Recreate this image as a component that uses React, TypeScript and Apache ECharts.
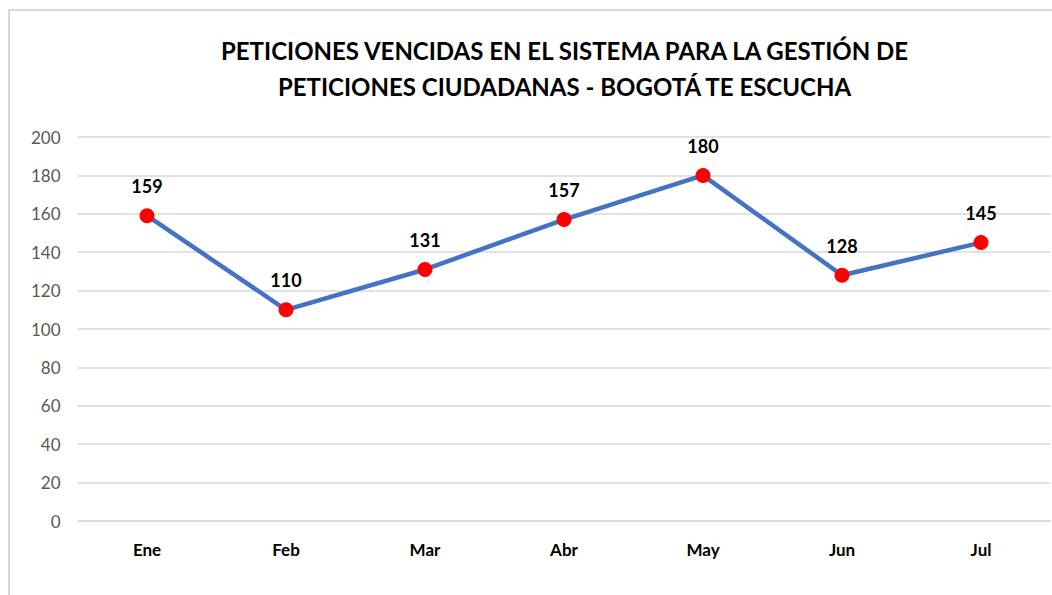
import React, { useEffect, useRef } from "react";
import * as echarts from "echarts";

const titleLines = [
  "PETICIONES VENCIDAS EN EL SISTEMA PARA LA GESTIÓN DE",
  "PETICIONES CIUDADANAS - BOGOTÁ TE ESCUCHA",
];
const months = ["Ene", "Feb", "Mar", "Abr", "May", "Jun", "Jul"];
const values = [159, 110, 131, 157, 180, 128, 145];
const yMin = 0;
const yMax = 200;
const yStep = 20;

const FONT = "Lato, 'Open Sans', sans-serif";

export default function App() {
  const ref = useRef<HTMLDivElement>(null);
  useEffect(() => {
    document.body.style.margin = "0";
    document.body.style.overflow = "hidden";
    if (!ref.current) return;
    const chart = echarts.init(ref.current, null, { renderer: "svg" });
    chart.setOption({
      animation: false,
      backgroundColor: "transparent",
      title: {
        text: titleLines.join("\n"),
        left: 559.5,
        textAlign: "center",
        top: 27,
        textStyle: {
          fontFamily: FONT,
          fontWeight: "bold",
          fontSize: 24,
          lineHeight: 36,
          color: "#000000",
        },
      },
      grid: { left: 77.5, right: 1.5, top: 137, bottom: 74, containLabel: false },
      xAxis: {
        type: "category",
        data: months,
        boundaryGap: true,
        axisLine: { show: true, lineStyle: { color: "#d9d9d9", width: 1.5 } },
        axisTick: { show: false },
        axisLabel: {
          margin: 20,
          fontFamily: FONT,
          fontWeight: "bold",
          fontSize: 17,
          color: "#000000",
        },
      },
      yAxis: {
        type: "value",
        min: yMin,
        max: yMax,
        interval: yStep,
        axisLine: { show: false },
        axisTick: { show: false },
        splitLine: { lineStyle: { color: "#d9d9d9", width: 1.5 } },
        axisLabel: {
          margin: 17,
          fontFamily: FONT,
          fontSize: 17,
          color: "#595959",
        },
      },
      series: [
        {
          type: "line",
          data: values,
          symbol: "circle",
          symbolSize: 15,
          itemStyle: { color: "#ff0000" },
          lineStyle: { color: "#4472c4", width: 4.5 },
          label: {
            show: true,
            position: "top",
            distance: 13,
            fontFamily: FONT,
            fontWeight: "bold",
            fontSize: 18,
            color: "#000000",
          },
        },
      ],
    });
    return () => chart.dispose();
  }, []);
  return (
    <div style={{ position: "relative", width: 1052, height: 595, overflow: "hidden", background: "#fff" }}>
      <div
        style={{
          position: "absolute",
          left: 8,
          top: 9,
          width: 1100,
          height: 650,
          borderLeft: "2px solid #d9d9d9",
          borderTop: "2px solid #d9d9d9",
          boxSizing: "border-box",
        }}
      />
      <div ref={ref} style={{ position: "absolute", left: 0, top: 0, width: 1052, height: 595 }} />
    </div>
  );
}
